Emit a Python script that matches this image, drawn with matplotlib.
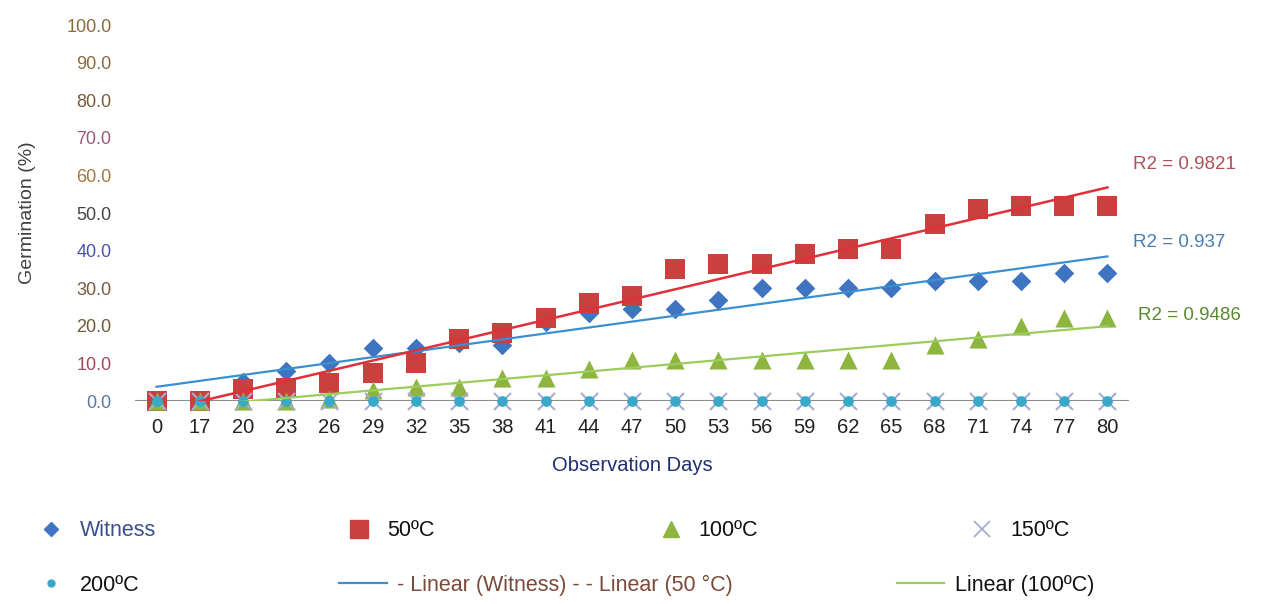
import numpy as np
import matplotlib
matplotlib.use("Agg")
import matplotlib.pyplot as plt
from matplotlib.lines import Line2D

plt.rcParams['font.family'] = ['Liberation Sans', 'DejaVu Sans']

days = [0, 17, 20, 23, 26, 29, 32, 35, 38, 41, 44, 47, 50, 53, 56, 59, 62, 65, 68, 71, 74, 77, 80]
witness = [0, 0, 5, 8, 10, 14, 14, 15.5, 15, 21, 23.5, 24.5, 24.5, 27, 30, 30, 30, 30, 32, 32, 32, 34, 34]
t50 = [0, 0, 3.2, 3.5, 4.8, 7.4, 10, 16.5, 18, 22, 26, 28, 35, 36.5, 36.5, 39, 40.5, 40.5, 47, 51, 52, 52, 52]
t100 = [0, 0, 0, 0, 0.5, 3, 3.7, 3.7, 6, 6, 8.5, 11, 11, 11, 11, 11, 11, 11, 15, 16.5, 20, 22, 22]
t150 = [0] * 23
t200 = [0] * 23

r2_labels = ["R2 = 0.9821", "R2 = 0.937", "R2 = 0.9486"]
yticks = [0, 10, 20, 30, 40, 50, 60, 70, 80, 90, 100]
ytick_colors = ['#5a7aa0', '#a04a5a', '#6e5a3a', '#7a5a3a', '#4a55a0', '#444444',
                '#a07840', '#9b5a7a', '#7a5a3a', '#8b6b3d', '#8b6b3d']

c_w = '#3f74c0'
c_50 = '#c9403f'
c_100 = '#8db53f'
c_150 = '#a8acd0'
c_200 = '#3aa8c8'

fig = plt.figure(figsize=(12.82, 6.04), dpi=100)
ax = fig.add_axes([0.1053, 0.336, 0.7754, 0.6225])

x = np.arange(len(days))

ax.scatter(x, witness, marker='D', s=100, color=c_w, zorder=3, linewidths=0, clip_on=False)
ax.scatter(x, t50, marker='s', s=200, color=c_50, zorder=3, linewidths=0, clip_on=False)
ax.scatter(x, t100, marker='^', s=170, color=c_100, zorder=3, linewidths=0, clip_on=False)
ax.scatter(x, t150, marker='x', s=150, color=c_150, zorder=3, linewidths=1.5, clip_on=False)
ax.scatter(x, t200, marker='o', s=60, color=c_200, zorder=4, linewidths=0, clip_on=False)

# linear trendlines (fit on category index like excel)
xf = np.array([x[0], x[-1]], dtype=float)
for vals, col, lw in [(witness, '#3a8fd0', 1.6), (t50, '#e0303a', 1.8), (t100, '#9acd5a', 1.6)]:
    k, b = np.polyfit(x, vals, 1)
    ax.plot(xf, k * xf + b, color=col, lw=lw, zorder=5)

ax.axhline(0, color='#8c8c8c', lw=1.5, zorder=2)

ax.set_xlim(-0.5, len(days) - 0.5)
ax.set_ylim(0, 100)
ax.set_xticks(x)
ax.set_xticklabels([str(d) for d in days], fontsize=14.5, color='#222222')
ax.set_yticks(yticks)
ax.set_yticklabels(['%.1f' % v for v in yticks], fontsize=13)
for lab, col in zip(ax.get_yticklabels(), ytick_colors):
    lab.set_color(col)
ax.tick_params(axis='both', length=0)
ax.tick_params(axis='x', pad=12)
ax.tick_params(axis='y', pad=17)
for s in ax.spines.values():
    s.set_visible(False)

ax.set_ylabel("Germination (%)", fontsize=14, color='#404040', labelpad=22)
ax.set_xlabel("Observation Days", fontsize=14.5, color='#1f2f6f', labelpad=14)

# R2 annotations
fig.text(0.884, 0.727, r2_labels[0], fontsize=13.5, color='#b0505a', va='center')
fig.text(0.884, 0.598, r2_labels[1], fontsize=13.5, color='#4a7eb0', va='center')
fig.text(0.888, 0.477, r2_labels[2], fontsize=13.5, color='#5a8a30', va='center')

# legend entries, placed one by one
entries = [
    (Line2D([], [], marker='D', ls='', color=c_w, markersize=7), "Witness", '#3b4e8c', 0.025, 0.121),
    (Line2D([], [], marker='s', ls='', color=c_50, markersize=13), "50\u00baC", '#111111', 0.265, 0.121),
    (Line2D([], [], marker='^', ls='', color=c_100, markersize=12), "100\u00baC", '#111111', 0.508, 0.121),
    (Line2D([], [], marker='x', ls='', color=c_150, markersize=11, mew=1.3), "150\u00baC", '#111111', 0.751, 0.121),
    (Line2D([], [], marker='o', ls='', color=c_200, markersize=5), "200\u00baC", '#111111', 0.025, 0.031),
    (Line2D([], [], color='#3a8fd0', lw=1.6), "- Linear (Witness) - - Linear (50 \u00b0C)", '#7a4a3a', 0.258, 0.031),
    (Line2D([], [], color='#9acd5a', lw=1.6), "Linear (100\u00baC)", '#111111', 0.693, 0.031),
]
for h, lab, col, lx, ly in entries:
    is_line = h.get_marker() in (None, 'None', '')
    leg = fig.legend(handles=[h], labels=[lab], loc='center left', bbox_to_anchor=(lx, ly),
                     frameon=False, fontsize=15.5, handlelength=2.2 if is_line else 1.0,
                     handletextpad=0.5 if is_line else 0.8, borderaxespad=0)
    for t in leg.get_texts():
        t.set_color(col)

fig.savefig("out.png", dpi=100, facecolor='white')
